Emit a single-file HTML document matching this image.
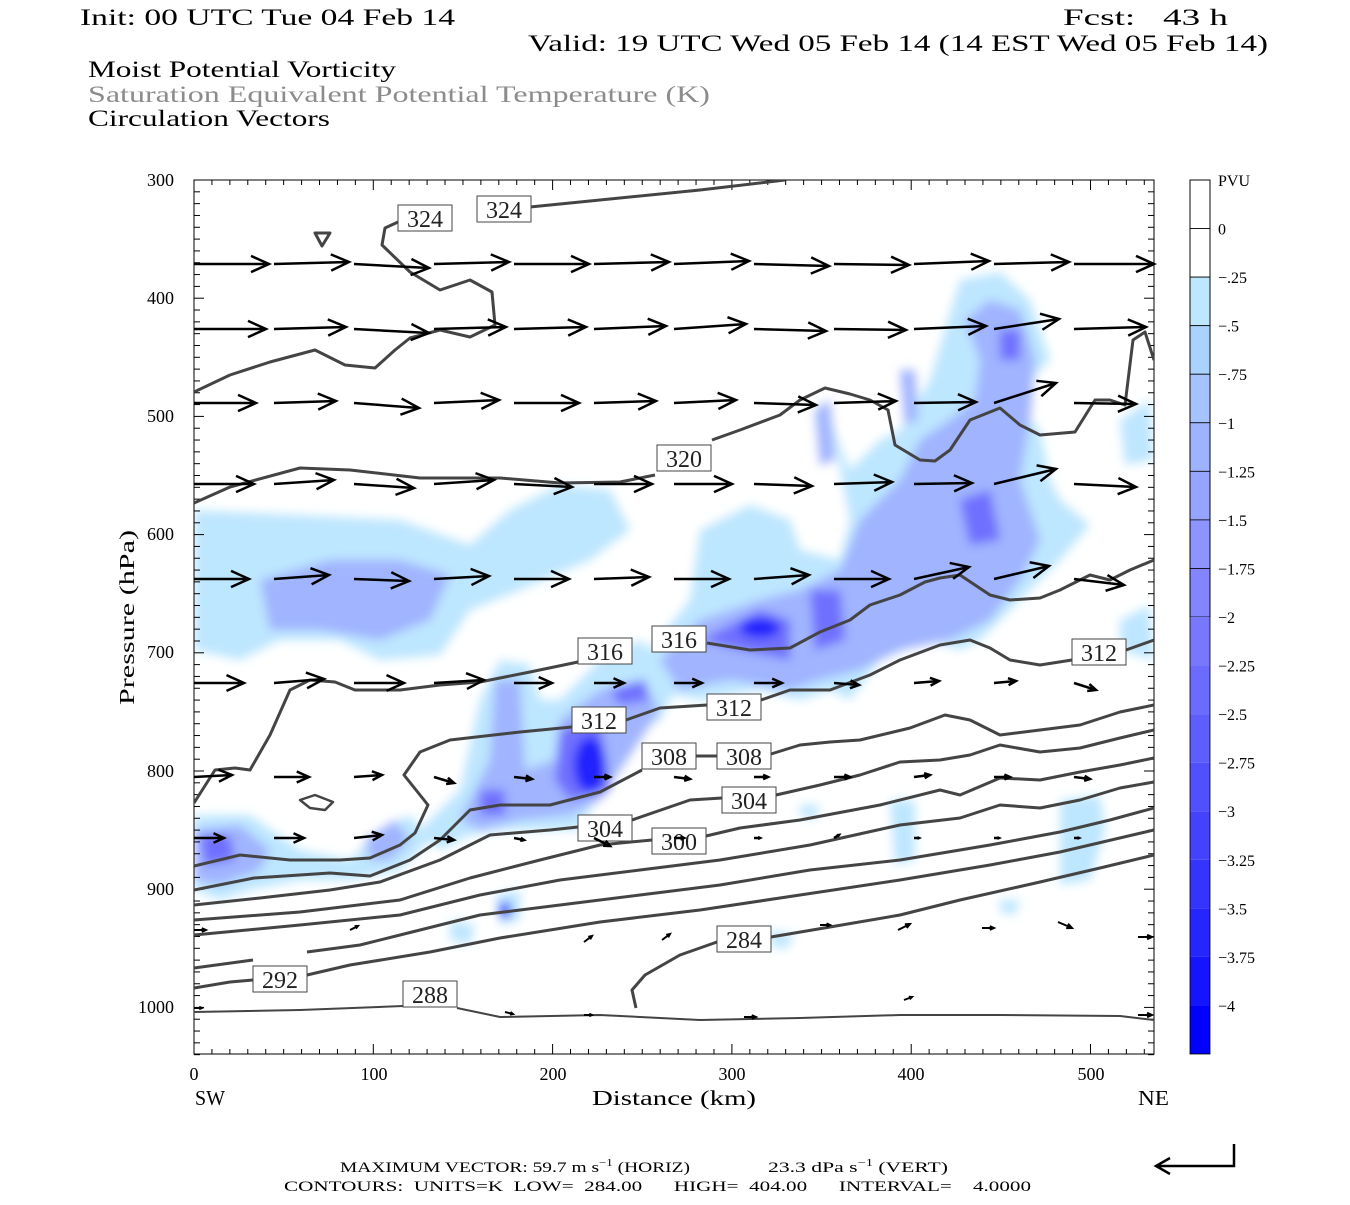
<!DOCTYPE html>
<html><head><meta charset="utf-8"><style>
html,body{margin:0;padding:0;background:#fff;}
svg text{font-family:"Liberation Serif","DejaVu Serif",serif;}
</style></head><body>
<svg id="s" width="1350" height="1200" viewBox="0 0 1350 1200" xmlns="http://www.w3.org/2000/svg">
<rect width="1350" height="1200" fill="#fff"/>
<g font-size="23" fill="#000" lengthAdjust="spacingAndGlyphs">
<text x="80" y="25" textLength="375" lengthAdjust="spacingAndGlyphs">Init: 00 UTC Tue 04 Feb 14</text>
<text x="1063" y="25" textLength="165" lengthAdjust="spacingAndGlyphs" xml:space="preserve">Fcst:   43 h</text>
<text x="528" y="51" textLength="740" lengthAdjust="spacingAndGlyphs">Valid: 19 UTC Wed 05 Feb 14 (14 EST Wed 05 Feb 14)</text>
<text x="88" y="77" textLength="308" lengthAdjust="spacingAndGlyphs">Moist Potential Vorticity</text>
<text x="88" y="102" fill="#8c8c8c" textLength="622" lengthAdjust="spacingAndGlyphs">Saturation Equivalent Potential Temperature (K)</text>
<text x="88" y="126" textLength="242" lengthAdjust="spacingAndGlyphs">Circulation Vectors</text>
</g>
<defs><clipPath id="cp"><rect x="194" y="180" width="960" height="874"/></clipPath>
<filter id="bl"><feGaussianBlur stdDeviation="5"/></filter></defs>
<g clip-path="url(#cp)" filter="url(#bl)">
<g fill="#bde6ff">
<path d="M194,510 L300,515 L400,520 L470,545 L510,510 L560,485 L610,490 L630,530 L590,560 L520,590 L470,610 L440,655 L380,660 L340,640 L280,640 L240,660 L194,650 Z"/>
<path d="M650,650 L690,600 L700,530 L750,505 L790,520 L800,550 L840,560 L850,520 L830,420 L820,395 L850,470 L880,440 L900,430 L930,380 L960,280 L1000,272 L1030,300 L1050,360 L1030,380 L1010,400 L1040,430 L1050,480 L1060,500 L1090,525 L1060,560 L1040,580 L1010,610 L980,640 L960,650 L930,640 L880,660 L850,700 L830,690 L800,700 L760,690 L700,700 L650,690 Z"/>
<path d="M940,350 L970,330 L990,360 L960,370 Z"/>
<path d="M480,700 L500,660 L530,665 L540,700 L560,700 L600,660 L640,640 L680,680 L660,720 L640,730 L600,790 L580,830 L540,830 L510,830 L470,835 L440,850 L420,830 L460,790 Z"/>
<path d="M194,815 L250,815 L300,850 L350,860 L380,830 L410,815 L430,840 L400,870 L350,880 L300,880 L250,890 L220,900 L194,890 Z"/>
<path d="M1120,620 L1150,605 L1154,660 L1120,650 Z"/>
<path d="M1120,420 L1150,400 L1154,460 L1125,465 Z"/>
<path d="M1060,800 L1100,795 L1105,830 L1090,880 L1060,885 Z"/>
<path d="M450,920 L475,925 L470,945 L450,940 Z M495,895 L520,890 L520,920 L500,925 Z M1000,900 L1020,900 L1015,915 L1000,912 Z M770,930 L795,935 L785,950 L770,945 Z M890,800 L915,800 L915,860 L895,865 Z M800,805 L820,805 L815,820 L800,815Z"/>
</g>
<g fill="#a0b4ff">
<path d="M260,580 L330,560 L400,560 L450,575 L430,620 L380,640 L320,630 L270,630 Z"/>
<path d="M660,660 L700,620 L760,600 L800,590 L840,570 L860,520 L900,480 L920,440 L950,420 L975,400 L980,360 L965,320 L990,300 L1020,310 L1035,360 L1030,420 L1020,480 L1040,540 L1020,580 L990,620 L950,640 L900,650 L860,670 L820,680 L790,690 L730,680 L680,690 Z"/>
<path d="M490,760 L495,680 L520,680 L525,770 L555,760 L560,720 L600,690 L640,680 L660,710 L620,770 L600,800 L570,815 L520,820 L480,830 L460,820 Z"/>
<path d="M194,830 L240,825 L270,850 L260,870 L220,885 L194,880 Z M365,840 L395,820 L410,840 L390,860 L370,860Z"/>
<path d="M900,370 L915,370 L918,420 L905,425Z M815,410 L830,400 L835,460 L820,465Z"/>
</g>
<g fill="#7070ff">
<path d="M700,640 L760,610 L790,620 L790,660 L740,650 Z M810,590 L840,590 L845,640 L815,650 Z"/>
<path d="M560,730 L600,720 L610,790 L570,800 L555,780 Z M610,690 L645,680 L650,700 L620,705Z"/>
<path d="M480,790 L505,790 L505,815 L480,815 Z"/>
<path d="M200,835 L230,835 L235,860 L205,865 Z"/>
<path d="M960,500 L990,490 L1000,540 L970,545 Z M1000,330 L1020,330 L1020,360 L1000,360Z"/>
</g>
<g fill="#2020ff">
<ellipse cx="590" cy="765" rx="16" ry="28"/>
<ellipse cx="760" cy="628" rx="20" ry="10"/>
<ellipse cx="505" cy="910" rx="6" ry="8"/>
</g>
</g>
<rect x="194" y="180" width="960" height="874" fill="none" stroke="#000" stroke-width="1"/>
<g id="ticks" stroke="#000" stroke-width="1"></g>
<g fill="none" stroke="#444" stroke-width="3" clip-path="url(#cp)" stroke-linejoin="round">
<path d="M530,207 L600,200 L700,190 L785,180"/>
<path d="M398,222 L385,228 L382,245 L410,272 L440,290 L470,280 L492,292 L495,325 L470,337 L440,330 L410,338 L395,350 L375,368 L345,365 L315,350 L270,362 L230,375 L194,392"/>
<path d="M315,233 L330,233 L322,246 Z"/>
<path d="M194,503 L230,487 L300,468 L350,470 L420,478 L500,478 L560,483 L620,482 L655,475"/>
<path d="M712,440 L740,430 L780,415 L800,400 L825,388 L850,394 L870,400 L888,410 L895,445 L920,460 L935,461 L950,450 L970,420 L1000,408 L1020,425 L1040,435 L1075,432 L1095,400 L1110,400 L1125,405 L1133,340 L1145,332 L1154,360"/>
<path d="M194,803 L215,770 L235,768 L250,770 L270,735 L290,690 L310,680 L335,682 L355,690 L400,690 L440,685 L480,682 L530,672 L578,662"/>
<path d="M707,643 L750,650 L790,648 L820,632 L850,620 L870,605 L900,595 L925,582 L940,578 L960,575 L990,595 L1010,600 L1040,598 L1060,590 L1090,575 L1110,580 L1130,570 L1154,560"/>
<path d="M194,866 L240,855 L290,860 L340,860 L370,858 L400,845 L415,833 L428,805 L404,775 L420,752 L450,740 L520,732 L572,727"/>
<path d="M626,720 L660,708 L707,705"/>
<path d="M761,700 L790,690 L830,690 L870,675 L900,660 L940,645 L970,640 L990,648 L1010,660 L1040,665 L1072,660"/>
<path d="M1126,650 L1154,640"/>
<path d="M194,890 L254,878 L330,873 L370,876 L410,860 L440,840 L470,810 L500,805 L550,805 L600,792 L642,770"/>
<path d="M696,756 L717,756"/>
<path d="M771,754 L800,745 L830,742 L860,740 L910,728 L945,715 L970,720 L1000,735 L1040,730 L1080,725 L1120,712 L1154,705"/>
<path d="M194,905 L260,898 L330,890 L380,882 L440,860 L490,835 L550,830 L578,827"/>
<path d="M632,820 L690,800 L722,798"/>
<path d="M776,795 L820,785 L860,775 L900,762 L940,760 L970,755 L1000,745 L1040,752 L1080,748 L1120,738 L1154,730"/>
<path d="M194,920 L300,912 L400,900 L470,878 L540,860 L600,845 L652,840"/>
<path d="M706,836 L740,828 L800,820 L880,805 L940,790 L960,795 L1000,778 L1040,780 L1080,772 L1120,765 L1154,758"/>
<path d="M194,935 L300,925 L400,915 L480,895 L560,880 L640,870 L720,860 L810,845 L900,825 L960,818 L1000,805 L1040,808 L1080,800 L1120,788 L1154,782"/>
<path d="M194,968 L253,960"/>
<path d="M307,952 L360,945 L400,935 L480,915 L560,905 L640,895 L720,885 L810,870 L900,860 L990,845 L1060,832 L1110,820 L1154,808"/>
<path d="M194,988 L230,982 L253,980"/>
<path d="M307,975 L350,965 L430,952 L500,938 L600,922 L700,910 L800,895 L900,880 L990,865 L1060,852 L1154,830"/>
<path d="M636,1008 L632,990 L645,975 L680,955 L717,942"/>
<path d="M771,937 L830,927 L900,915 L960,900 L1040,882 L1100,868 L1154,855"/>
<path d="M194,1012 L300,1010 L403,1006 M457,1008 L500,1017 L600,1015 L700,1020 L800,1018 L900,1015 L1000,1015 L1120,1016 L1154,1020" stroke-width="2"/>
<path d="M300,800 L315,795 L333,802 L325,810 L310,808 Z" stroke-width="2.5"/>
</g>
<g font-size="24" text-anchor="middle"><g id="lbls"></g></g>
<g id="arrows" stroke="#000" fill="none" stroke-width="3"></g>
<g id="cb"></g>
<g font-size="16"><text x="1218" y="186">PVU</text></g>
<g font-size="18">
<text x="174" y="186" text-anchor="end">300</text>
<text x="174" y="304" text-anchor="end">400</text>
<text x="174" y="422" text-anchor="end">500</text>
<text x="174" y="540" text-anchor="end">600</text>
<text x="174" y="658" text-anchor="end">700</text>
<text x="174" y="777" text-anchor="end">800</text>
<text x="174" y="895" text-anchor="end">900</text>
<text x="174" y="1013" text-anchor="end">1000</text>
<text x="194" y="1080" text-anchor="middle">0</text>
<text x="374" y="1080" text-anchor="middle">100</text>
<text x="553" y="1080" text-anchor="middle">200</text>
<text x="732" y="1080" text-anchor="middle">300</text>
<text x="911" y="1080" text-anchor="middle">400</text>
<text x="1091" y="1080" text-anchor="middle">500</text>
</g>
<g font-size="21">
<text x="195" y="1105" textLength="30" lengthAdjust="spacingAndGlyphs">SW</text>
<text x="1138" y="1105" textLength="31" lengthAdjust="spacingAndGlyphs">NE</text>
<text x="592" y="1105" textLength="164" lengthAdjust="spacingAndGlyphs">Distance (km)</text>
<text transform="translate(134,705) rotate(-90)" textLength="175" lengthAdjust="spacingAndGlyphs">Pressure (hPa)</text>
</g>
<g font-size="15">
<text x="340" y="1172" textLength="350" lengthAdjust="spacingAndGlyphs">MAXIMUM VECTOR:  59.7 m s<tspan dy="-6" font-size="10">−1</tspan><tspan dy="6"> (HORIZ)</tspan></text>
<text x="768" y="1172" textLength="180" lengthAdjust="spacingAndGlyphs">23.3 dPa s<tspan dy="-6" font-size="10">−1</tspan><tspan dy="6"> (VERT)</tspan></text>
<text x="284" y="1191" textLength="747" lengthAdjust="spacingAndGlyphs" xml:space="preserve">CONTOURS:  UNITS=K  LOW=  284.00      HIGH=  404.00      INTERVAL=    4.0000</text>
</g>
<g stroke="#000" stroke-width="2.5" fill="none">
<path d="M1234,1144 L1234,1166 L1156,1166 M1170,1158 L1156,1166 L1170,1174"/>
</g>
</svg>
<script>
var NS="http://www.w3.org/2000/svg";
function el(p,t,a,txt){var e=document.createElementNS(NS,t);for(var k in a)e.setAttribute(k,a[k]);if(txt)e.textContent=txt;p.appendChild(e);return e;}
var tk=document.getElementById("ticks");
for(var p=300;p<=1040;p+=10){var y=180+(p-300)*1.182;var L=(p%100==0)?10:6;el(tk,"line",{x1:194,y1:y,x2:194+L,y2:y});el(tk,"line",{x1:1154,y1:y,x2:1154-L,y2:y});}
for(var d=0;d<=530;d+=10){var x=194+d*1.793;var L=(d%100==0)?10:5;el(tk,"line",{x1:x,y1:1054,x2:x,y2:1054-L});el(tk,"line",{x1:x,y1:180,x2:x,y2:180+L});}
var lb=document.getElementById("lbls");
[[425,218,"324"],[504,209,"324"],[684,458,"320"],[605,651,"316"],[679,639,"316"],[599,720,"312"],[734,707,"312"],[669,756,"308"],[744,756,"308"],[749,800,"304"],[605,828,"304"],[679,841,"300"],[744,939,"284"],[280,979,"292"],[430,994,"288"],[1099,652,"312"]].forEach(function(l){
el(lb,"rect",{x:l[0]-27,y:l[1]-13,width:54,height:26,fill:"#fff",stroke:"#444","stroke-width":1});
el(lb,"text",{x:l[0],y:l[1]+9,fill:"#222"},l[2]);});
var ar=document.getElementById("arrows");
function arrow(x,y,dx,dy,w){var len=Math.hypot(dx,dy);if(len<2)return;var ux=dx/len,uy=dy/len;var h=Math.min(18,len*0.35),hw=h*0.45;
var x2=x+dx,y2=y+dy;el(ar,"path",{d:"M"+x+","+y+" L"+x2+","+y2+" M"+(x2-ux*h-uy*hw)+","+(y2-uy*h+ux*hw)+" L"+x2+","+y2+" L"+(x2-ux*h+uy*hw)+","+(y2-uy*h-ux*hw),"stroke-width":w||2.5});}
var cols=[194,274,354,434,514,594,674,754,834,914,994,1074];
var rows=[[264,[[75,0],[75,-2],[75,4],[75,-2],[75,0],[75,-2],[75,-3],[75,2],[75,1],[75,-3],[75,-2],[80,0]]],
[329,[[72,0],[72,-2],[75,4],[72,-2],[72,-2],[72,-3],[72,-5],[72,2],[72,1],[72,-3],[65,-10],[72,-2]]],
[403,[[62,0],[62,-2],[65,5],[65,-3],[65,0],[62,-2],[62,-3],[62,2],[62,-2],[62,-1],[62,-20],[62,1]]],
[484,[[60,0],[60,-4],[60,4],[60,-4],[58,3],[58,0],[58,0],[58,2],[58,-2],[58,-1],[62,-15],[62,3]]],
[579,[[55,0],[55,-4],[55,2],[55,-3],[55,0],[55,-2],[55,0],[55,-4],[55,0],[55,-12],[55,-13],[50,6]]],
[683,[[50,0],[50,-4],[50,0],[50,-3],[38,0],[30,0],[28,0],[28,0],[25,2],[25,-2],[22,-2],[22,7]]],
[777,[[38,-2],[35,0],[28,-2],[20,6],[18,2],[16,0],[16,2],[14,0],[16,0],[16,-2],[16,0],[16,2]]],
[838,[[30,0],[30,0],[28,-3],[20,2],[10,2],[16,8],[10,0],[6,0],[5,-3],[5,0],[5,0],[5,0]]]];
rows.forEach(function(r){r[1].forEach(function(v,i){arrow(cols[i],r[0],v[0],v[1]);});});
[[194,930,12,0],[350,930,8,-4],[584,942,8,-6],[662,940,8,-6],[820,925,10,0],[898,930,12,-6],[982,928,12,0],[1058,922,14,6],[1138,937,14,0],[194,1008,8,0],[505,1012,8,2],[584,1015,8,0],[744,1017,12,0],[904,1000,8,-3],[1138,1015,14,0]].forEach(function(a){arrow(a[0],a[1],a[2],a[3],2);});
var cb=document.getElementById("cb");
var cols2=["#ffffff","#ffffff","#bde6ff","#aad2ff","#a5c3ff","#9eb3ff","#96a3ff","#8c94ff","#8285ff","#7878ff","#6b6bff","#5e5eff","#5050ff","#4242ff","#3434ff","#2525ff","#1414ff","#0000ff"];
var labs=["0","−.25","−.5","−.75","−1","−1.25","−1.5","−1.75","−2","−2.25","−2.5","−2.75","−3","−3.25","−3.5","−3.75","−4"];
var h=874/18;
for(var i=0;i<18;i++){el(cb,"rect",{x:1190,y:180+i*h,width:20,height:h,fill:cols2[i],stroke:i<9?"#000":"none","stroke-width":0.8});}
el(cb,"rect",{x:1190,y:180,width:20,height:874,fill:"none",stroke:"#000","stroke-width":0.8});
for(var i=0;i<17;i++){el(cb,"text",{x:1218,y:180+(i+1)*h+6,"font-size":16},labs[i]);}
</script>
</body></html>
